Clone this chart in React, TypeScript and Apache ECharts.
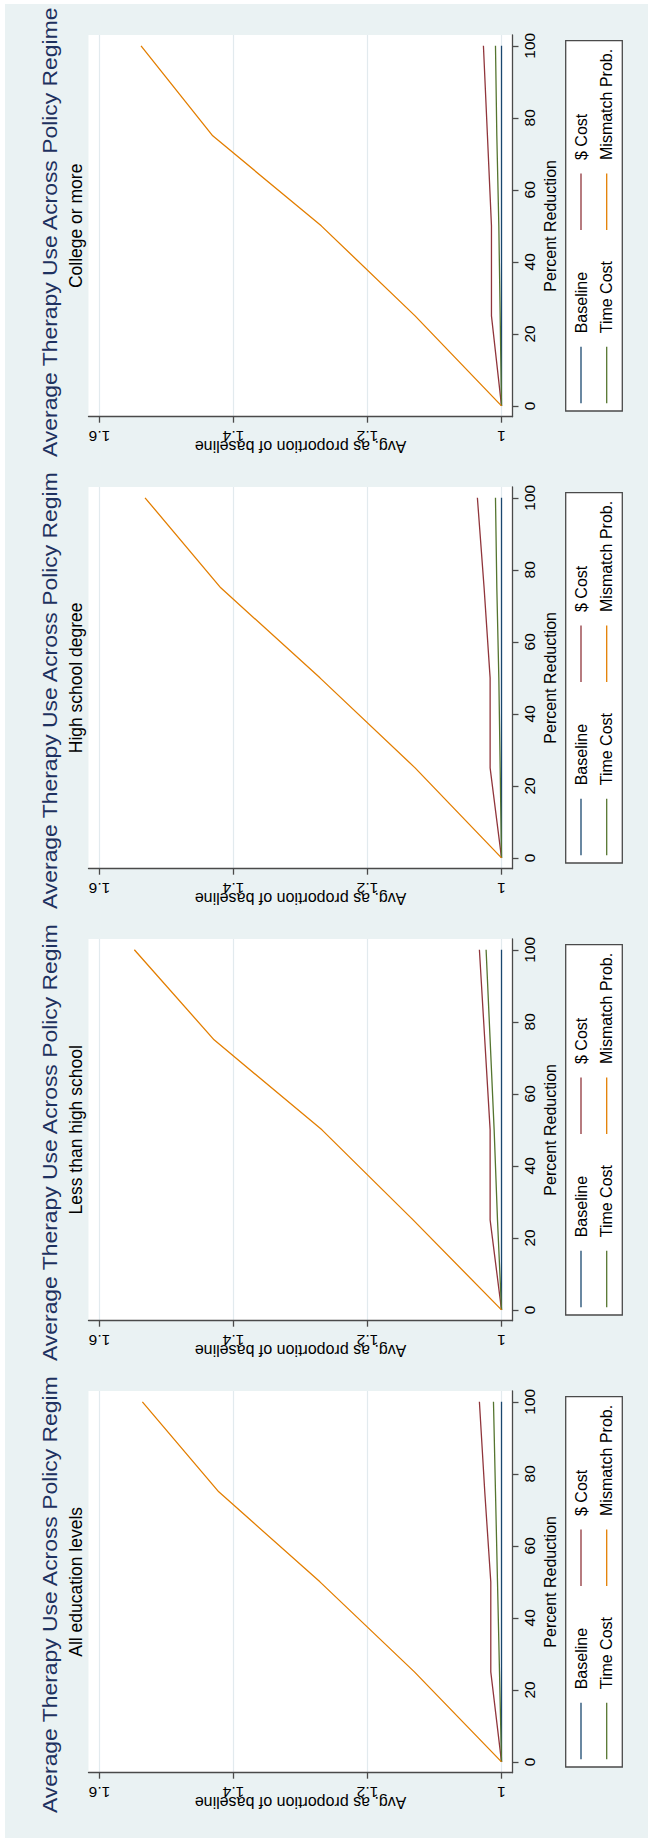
import React, { useEffect, useRef } from "react";
import * as echarts from "echarts";

// ---------- data ----------
const percentReduction = [0, 25, 50, 75, 100];
const seriesNames = ["Baseline", "$ Cost", "Time Cost", "Mismatch Prob."];
const seriesColors = ["#1a476f", "#90353b", "#55752f", "#e37e00"];
const panelSubtitles = [
  "College or more",
  "High school degree",
  "Less than high school",
  "All education levels",
];
const panelTitles = [
  "Average Therapy Use Across Policy Regime",
  "Average Therapy Use Across Policy Regim",
  "Average Therapy Use Across Policy Regim",
  "Average Therapy Use Across Policy Regim",
];
const valueTicks = [1, 1.2, 1.4, 1.6];
const percentTicks = [0, 20, 40, 60, 80, 100];

const collegeBaseline = [1, 1, 1, 1, 1];
const collegeDollar = [1, 1.015, 1.015, 1.021, 1.027];
const collegeTime = [1, 1.002, 1.004, 1.007, 1.009];
const collegeMismatch = [1, 1.129, 1.269, 1.431, 1.538];

const hsBaseline = [1, 1, 1, 1, 1];
const hsDollar = [1, 1.017, 1.017, 1.026, 1.036];
const hsTime = [1, 1.002, 1.004, 1.007, 1.009];
const hsMismatch = [1, 1.129, 1.271, 1.419, 1.532];

const lessHsBaseline = [1, 1, 1, 1, 1];
const lessHsDollar = [1, 1.017, 1.017, 1.025, 1.033];
const lessHsTime = [1, 1.006, 1.011, 1.017, 1.023];
const lessHsMismatch = [1, 1.132, 1.268, 1.429, 1.548];

const allBaseline = [1, 1, 1, 1, 1];
const allDollar = [1, 1.016, 1.016, 1.025, 1.033];
const allTime = [1, 1.003, 1.006, 1.009, 1.012];
const allMismatch = [1, 1.13, 1.271, 1.422, 1.536];

const panelData = [
  [collegeBaseline, collegeDollar, collegeTime, collegeMismatch],
  [hsBaseline, hsDollar, hsTime, hsMismatch],
  [lessHsBaseline, lessHsDollar, lessHsTime, lessHsMismatch],
  [allBaseline, allDollar, allTime, allMismatch],
];

// ---------- layout ----------
const W = 648;
const H = 1838;
const PITCH = 452;
const PLOT_LEFT = 88.5;
const PLOT_RIGHT = 512.5;
const PLOT_TOP = 35;
const PLOT_BOTTOM = 416.7;
const FONT = "'Liberation Sans', Arial, Helvetica, sans-serif";
const AXIS_COLOR = "#4a4a4a";
const BG = "#eaf2f3";

export default function App() {
  const ref = useRef<HTMLDivElement>(null);

  useEffect(() => {
    document.body.style.margin = "0";
    const chart = echarts.init(ref.current as HTMLDivElement, undefined, {
      renderer: "svg",
      width: W,
      height: H,
    });

    const grids: any[] = [];
    const xAxes: any[] = [];
    const yAxes: any[] = [];
    const series: any[] = [];
    const graphics: any[] = [
      { type: "rect", silent: true, shape: { x: 0, y: 0, width: 5, height: H }, style: { fill: "#ffffff" } },
      { type: "rect", silent: true, shape: { x: 0, y: 0, width: W, height: 4 }, style: { fill: "#ffffff" } },
    ];

    panelSubtitles.forEach((sub, p) => {
      const dy = p * PITCH;
      grids.push({
        left: PLOT_LEFT,
        top: PLOT_TOP + dy,
        width: PLOT_RIGHT - PLOT_LEFT,
        height: PLOT_BOTTOM - PLOT_TOP,
        show: true,
        backgroundColor: "#ffffff",
        borderWidth: 0,
        containLabel: false,
        outerBoundsMode: "none",
      });
      xAxes.push({
        type: "value",
        gridIndex: p,
        position: "bottom",
        inverse: true,
        min: 0.9836,
        max: 1.6164,
        axisLine: { show: true, onZero: false, lineStyle: { color: AXIS_COLOR, width: 1.3 } },
        axisTick: { show: true, length: 6, customValues: valueTicks, lineStyle: { color: AXIS_COLOR, width: 1.3 } },
        axisLabel: {
          customValues: valueTicks,
          rotate: 180,
          margin: 12,
          fontSize: 15.5,
          color: "#000",
          fontFamily: FONT,
          formatter: (v: number) => String(Math.round(v * 10) / 10),
        },
        splitLine: { show: true, lineStyle: { color: "#e2eaee", width: 1.2 } },
        name: "Avg. as proportion of baseline",
        nameLocation: "middle",
        nameRotate: 180,
        nameGap: 22,
        nameMoveOverlap: false,
        nameTextStyle: { fontSize: 16, color: "#000", fontFamily: FONT },
      });
      yAxes.push({
        type: "value",
        gridIndex: p,
        position: "right",
        min: -3,
        max: 103,
        axisLine: { show: true, onZero: false, lineStyle: { color: AXIS_COLOR, width: 1.3 } },
        axisTick: { show: true, length: 6, customValues: percentTicks, lineStyle: { color: AXIS_COLOR, width: 1.3 } },
        axisLabel: {
          customValues: percentTicks,
          rotate: 90,
          margin: 9,
          fontSize: 15.5,
          color: "#000",
          fontFamily: FONT,
        },
        splitLine: { show: false },
        name: "Percent Reduction",
        nameLocation: "middle",
        nameRotate: 90,
        nameGap: 30,
        nameMoveOverlap: false,
        nameTextStyle: { fontSize: 16, color: "#000", fontFamily: FONT },
      });

      panelData[p].forEach((vals, s) => {
        series.push({
          type: "line",
          name: seriesNames[s],
          xAxisIndex: p,
          yAxisIndex: p,
          data: vals.map((v, i) => [v, percentReduction[i]]),
          showSymbol: false,
          symbol: "none",
          silent: true,
          lineStyle: { color: seriesColors[s], width: 1.3 },
          itemStyle: { color: seriesColors[s] },
        });
      });

      // title and subtitle
      graphics.push({
        type: "text",
        x: 50,
        y: 457 + dy,
        rotation: Math.PI / 2,
        scaleX: 1.145,
        style: {
          text: panelTitles[p],
          fontSize: 20,
          fontFamily: FONT,
          fill: "#1e3160",
          align: "left",
          verticalAlign: "middle",
        },
      });
      graphics.push({
        type: "text",
        x: 75.5,
        y: (PLOT_TOP + PLOT_BOTTOM) / 2 + dy,
        rotation: Math.PI / 2,
        style: {
          text: sub,
          fontSize: 17.5,
          fontFamily: FONT,
          fill: "#000",
          align: "center",
          verticalAlign: "middle",
        },
      });

      // legend box
      graphics.push({
        type: "rect",
        shape: { x: 565.7, y: 40.7 + dy, width: 56.6, height: 370.3 },
        style: { fill: "#ffffff", stroke: "#4a4a4a", lineWidth: 1.3 },
      });
      const colX = [581, 606.7];
      const slotStart = [403.3, 230];
      seriesNames.forEach((nm, s) => {
        const cx = colX[Math.floor(s / 2)];
        const y0 = slotStart[s % 2] + dy;
        graphics.push({
          type: "line",
          shape: { x1: cx, y1: y0, x2: cx, y2: y0 - 56.6 },
          style: { stroke: seriesColors[s], lineWidth: 1.3 },
        });
        graphics.push({
          type: "text",
          x: cx,
          y: y0 - 56.6 - 13.4,
          rotation: Math.PI / 2,
          style: {
            text: nm,
            fontSize: 16,
            fontFamily: FONT,
            fill: "#000",
            align: "left",
            verticalAlign: "middle",
          },
        });
      });
    });

    chart.setOption({
      animation: false,
      backgroundColor: BG,
      grid: grids,
      xAxis: xAxes,
      yAxis: yAxes,
      series,
      graphic: { elements: graphics },
    });

    return () => chart.dispose();
  }, []);

  return <div ref={ref} style={{ width: W, height: H }} />;
}
